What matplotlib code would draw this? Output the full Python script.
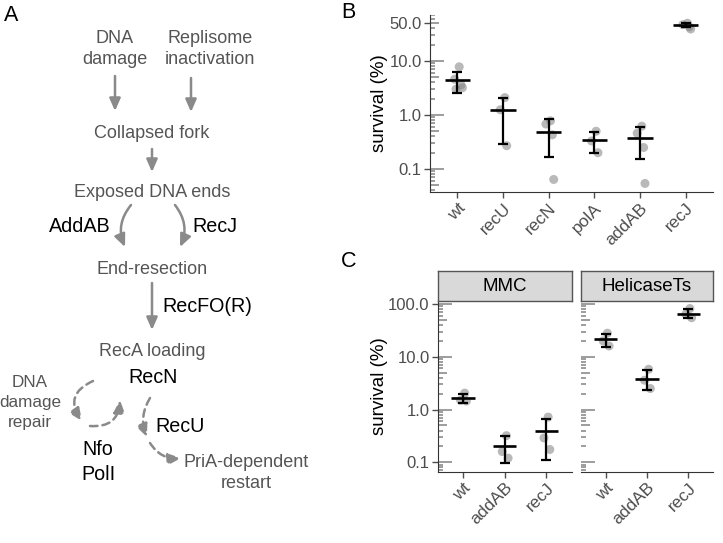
import matplotlib
matplotlib.use('Agg')
import matplotlib.pyplot as plt
import numpy as np
from matplotlib.patches import FancyArrowPatch

plt.rcParams['font.family'] = ['Liberation Sans', 'DejaVu Sans']

W, H = 723, 543

# ---- panel B data: survival (%) per strain
b_strains = ['wt', 'recU', 'recN', 'polA', 'addAB', 'recJ']
b_points = [[7.8, 4.6, 3.6, 3.2, 3.0],
            [2.1, 1.25, 0.27],
            [0.78, 0.68, 0.43, 0.064],
            [0.5, 0.33, 0.2],
            [0.62, 0.46, 0.25, 0.054],
            [50, 47, 43, 39]]
b_mean = [4.45, 1.22, 0.49, 0.34, 0.38, 46]
b_low = [2.6, 0.29, 0.17, 0.195, 0.15, 42]
b_high = [6.3, 2.1, 0.83, 0.49, 0.61, 50]

# ---- panel C data
c_strains = ['wt', 'addAB', 'recJ']
c_facets = ['MMC', 'HelicaseTs']
mmc_points = [[2.05, 1.5, 1.45], [0.32, 0.16, 0.12], [0.72, 0.29, 0.175]]
mmc_mean = [1.65, 0.2, 0.39]
mmc_low = [1.34, 0.096, 0.11]
mmc_high = [1.94, 0.31, 0.66]
hel_points = [[28, 20, 16], [5.8, 3.6, 2.5], [82, 64, 55]]
hel_mean = [21.4, 3.86, 66]
hel_low = [15.5, 2.34, 54]
hel_high = [27.5, 5.56, 79]

jitter = [0.04, -0.06, 0.08, 0.11, -0.03]

GRAY_TXT = '#555555'
ARROW = '#8a8a8a'
TICK = '#4d4d4d'

fig = plt.figure(figsize=(W / 100, H / 100), dpi=100)


def px_axes(l, t, r, b):
    return fig.add_axes([l / W, 1 - b / H, (r - l) / W, (b - t) / H])


# ---------------- panel A: diagram in pixel coordinates
axa = fig.add_axes([0, 0, 1, 1])
axa.set_xlim(0, W)
axa.set_ylim(H, 0)
axa.axis('off')


def label(x, y, s, black=False, size=13, ha='center'):
    axa.text(x, y, s, ha=ha, va='baseline', fontsize=14.2 if black else size,
             color='black' if black else GRAY_TXT)


def arrow(p0, p1, rad=0.0, dashed=False):
    a = FancyArrowPatch(p0, p1, connectionstyle='arc3,rad=%s' % rad,
                        arrowstyle='-|>,head_length=0.75,head_width=0.33',
                        mutation_scale=10, color=ARROW, lw=1.8,
                        linestyle=(0, (3, 2)) if dashed else '-',
                        shrinkA=0, shrinkB=0)
    axa.add_patch(a)


axa.text(4, 21, 'A', fontsize=15.5, color='black')
axa.text(341, 17.5, 'B', fontsize=15.5, color='black')
axa.text(341, 267, 'C', fontsize=15.5, color='black')

label(115, 43, 'DNA')
label(115, 64, 'damage')
label(210, 43, 'Replisome')
label(210, 64, 'inactivation')
arrow((115, 76), (115, 111))
arrow((191, 78), (191, 112))
label(152, 138, 'Collapsed fork')
arrow((152, 149), (152, 172))
label(152, 197, 'Exposed DNA ends')
label(80, 232, 'AddAB', black=True)
label(192, 232, 'RecJ', black=True, ha='left')
arrow((131, 205), (125, 247), rad=0.3)
arrow((175, 205), (180, 247), rad=-0.3)
label(152, 274, 'End-resection')
arrow((152, 283), (152, 330))
label(162, 312, 'RecFO(R)', black=True, ha='left')
label(152, 356, 'RecA loading')
label(153, 383, 'RecN', black=True)
label(30, 387, 'DNA', size=12.3)
label(30, 407, 'damage', size=12.3)
label(30, 427, 'repair', size=12.3)
arrow((93, 381), (82, 421), rad=0.6, dashed=True)
arrow((90, 426), (120, 400), rad=0.5, dashed=True)
label(98, 455, 'Nfo', black=True)
label(98, 480, 'PolI', black=True)
arrow((150, 398), (147, 437), rad=0.25, dashed=True)
arrow((150, 443), (181, 458), rad=0.3, dashed=True)
label(155, 432, 'RecU', black=True, ha='left')
label(246, 467, 'PriA-dependent')
label(246, 488, 'restart')


# ---------------- plotting helpers
def log_ticks(ax, lo_exp, hi_exp):
    ax_w = ax.get_position().width * W
    for e in range(lo_exp, hi_exp):
        for m in range(1, 10):
            v = m * 10.0 ** e
            L = 14 if m == 1 else (9 if m == 5 else 5)
            ax.plot([0, L / ax_w], [v, v], transform=ax.get_yaxis_transform(),
                    color='#8c8c8c', lw=1.2, solid_capstyle='butt', zorder=1)


def draw_groups(ax, points, mean, low, high):
    for i, pts in enumerate(points):
        xs = i + np.array(jitter[:len(pts)])
        ax.scatter(xs, pts, s=42, color='#808080', alpha=0.55,
                   edgecolors='none', zorder=2)
    x = np.arange(len(points))
    m = np.array(mean)
    ax.errorbar(x, m, yerr=[m - np.array(low), np.array(high) - m], fmt='none',
                ecolor='black', elinewidth=1.6, capsize=3.5, capthick=1.6, zorder=3)
    ax.hlines(m, x - 0.28, x + 0.28, color='black', lw=1.9, zorder=4)


def style_axes(ax, labels, left=True):
    ax.set_yscale('log')
    ax.minorticks_off()
    for s in ['top', 'right']:
        ax.spines[s].set_visible(False)
    ax.spines['bottom'].set_color('#333333')
    ax.spines['left'].set_color('#333333')
    ax.spines['left'].set_visible(left)
    ax.set_xlim(-0.6, len(labels) - 0.4)
    ax.set_xticks(range(len(labels)))
    ax.set_xticklabels(labels, rotation=45, ha='right', va='top',
                       rotation_mode='anchor', fontsize=12.5)
    ax.tick_params(axis='both', colors=TICK, labelcolor=TICK,
                   length=4, width=1, pad=2)
    ax.tick_params(axis='y', labelsize=12)
    if not left:
        ax.tick_params(axis='y', left=False, labelleft=False)


# ---------------- panel B
axb = px_axes(430, 15, 713, 192)
draw_groups(axb, b_points, b_mean, b_low, b_high)
style_axes(axb, b_strains)
axb.set_ylim(0.0375, 71)
axb.set_yticks([0.1, 1, 10, 50])
axb.set_yticklabels(['0.1', '1.0', '10.0', '50.0'])
log_ticks(axb, -2, 2)
fig.text(379 / W, 1 - 103.5 / H, 'survival (%)', rotation=90, ha='center',
         va='center', fontsize=13.5)

# ---------------- panel C
facet_box = [(438, 571.5), (581, 713)]
facet_data = [(mmc_points, mmc_mean, mmc_low, mmc_high),
              (hel_points, hel_mean, hel_low, hel_high)]
for k, (name, (l, r), d) in enumerate(zip(c_facets, facet_box, facet_data)):
    ax = px_axes(l, 301, r, 471.7)
    draw_groups(ax, *d)
    style_axes(ax, c_strains, left=(k == 0))
    ax.set_ylim(0.0664, 114)
    ax.set_yticks([0.1, 1, 10, 100])
    ax.set_yticklabels(['0.1', '1.0', '10.0', '100.0'])
    log_ticks(ax, -2, 3)
    st = px_axes(l, 270.7, r, 301)
    st.set_facecolor('#d9d9d9')
    st.set_xticks([])
    st.set_yticks([])
    for s in st.spines.values():
        s.set_color('#555555')
        s.set_linewidth(1)
    st.text(0.5, 0.47, name, ha='center', va='center', fontsize=13.5,
            transform=st.transAxes)
fig.text(379 / W, 1 - 386 / H, 'survival (%)', rotation=90, ha='center',
         va='center', fontsize=13.5)

fig.savefig('out.png', dpi=100)
